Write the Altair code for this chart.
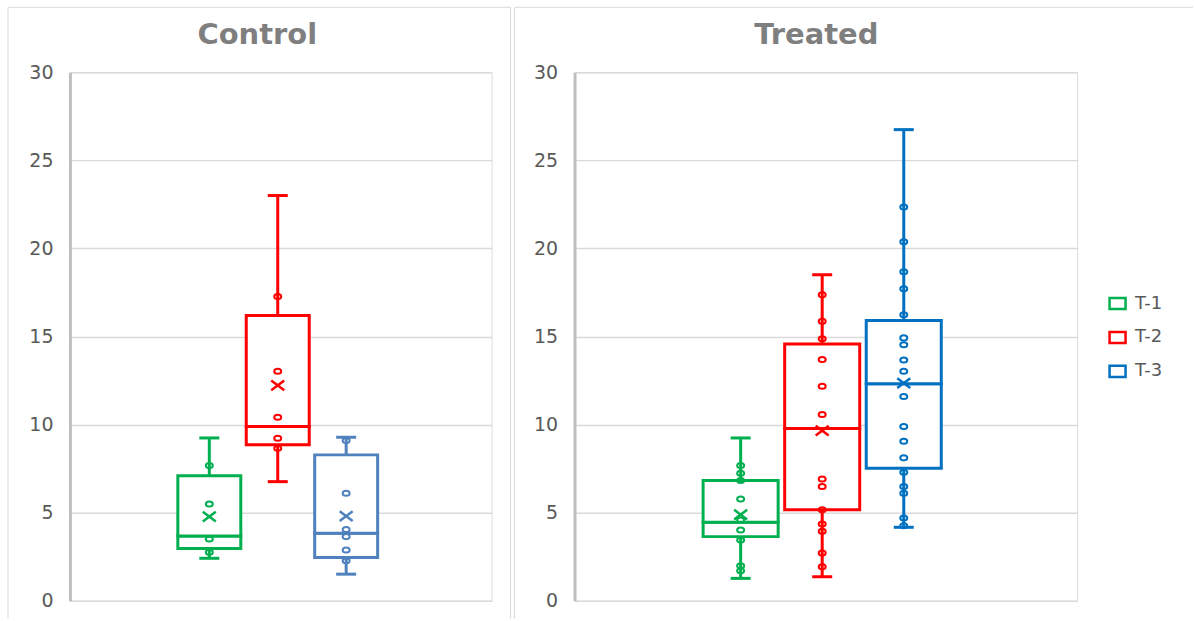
import altair as alt
import pandas as pd

series = ["T-1", "T-2", "T-3"]
control_colors = ["#00b050", "#ff0000", "#4f81bd"]
treated_colors = ["#00b050", "#ff0000", "#0070c0"]

# box summaries
control_min = [2.41, 6.76, 1.51]
control_q1 = [2.97, 8.86, 2.46]
control_median = [3.67, 9.89, 3.83]
control_q3 = [7.10, 16.19, 8.28]
control_max = [9.24, 23.0, 9.28]
control_mean = [4.77, 12.22, 4.81]

treated_min = [1.27, 1.36, 4.17]
treated_q1 = [3.64, 5.17, 7.52]
treated_median = [4.45, 9.77, 12.31]
treated_q3 = [6.82, 14.58, 15.91]
treated_max = [9.24, 18.5, 26.74]
treated_mean = [4.89, 9.66, 12.35]

# individual points
control_t1 = [7.67, 5.49, 3.50, 2.75]
control_t2 = [17.27, 13.03, 10.42, 9.22, 8.66]
control_t3 = [9.09, 6.10, 4.05, 3.64, 2.88, 2.27]

treated_t1 = [7.67, 7.23, 6.82, 5.78, 4.58, 4.02, 3.45, 1.99, 1.70]
treated_t2 = [17.37, 15.87, 14.87, 13.69, 12.18, 10.57, 6.91, 6.48, 5.17,
              4.36, 3.94, 2.71, 1.93]
treated_t3 = [22.35, 20.38, 18.67, 17.71, 16.23, 14.92, 14.53, 13.67, 13.03,
              11.59, 9.89, 9.05, 8.11, 7.29, 6.48, 6.10, 4.70, 4.26]

y_ticks = [0, 5, 10, 15, 20, 25, 30]

FONT = "DejaVu Sans"
GRID = "#d9d9d9"


def box_frame(mins, q1s, meds, q3s, maxs, means, colors):
    return pd.DataFrame({
        "grp": "all", "series": series, "color": colors,
        "min": mins, "q1": q1s, "median": meds, "q3": q3s,
        "max": maxs, "mean": means,
    })


def point_frame(lists, colors):
    rows = []
    for s, c, vals in zip(series, colors, lists):
        for v in vals:
            rows.append({"grp": "all", "series": s, "color": c, "value": v})
    return pd.DataFrame(rows)


Y_AXIS = alt.Axis(values=y_ticks, title=None, grid=True, gridColor=GRID,
                  gridWidth=1.5, domainColor="#bfbfbf", domainWidth=3,
                  ticks=False, labelPadding=17, labelFontSize=19,
                  labelColor="#595959", labelFont=FONT)
Y_SCALE = alt.Scale(domain=[0, 30], nice=False)
X_ENC = alt.X("grp:N", scale=alt.Scale(paddingInner=0, paddingOuter=0.527,
                                      align=0.486), axis=None)
XO_ENC = alt.XOffset("series:N", scale=alt.Scale(domain=series,
                                                 paddingInner=0.08,
                                                 paddingOuter=0.04))

ELLIPSE = "M-1,0A1,0.72 0 1,0 1,0A1,0.72 0 1,0 -1,0Z"
XSHAPE = "M-1,-0.75L1,0.75M1,-0.75L-1,0.75"


def panel(title, dx, box, pts, width, height, left_ext, right_ext, stroke_enc):
    one = alt.Data(values=[{"d": 0}])
    col = alt.Color("color:N", scale=None)
    bottom = 547
    borders = [
        alt.Chart(one).mark_rule(color=GRID, strokeWidth=1).encode(
            x=alt.value(-left_ext), y=alt.value(-65), y2=alt.value(bottom)),
        alt.Chart(one).mark_rule(color=GRID, strokeWidth=1).encode(
            x=alt.value(-left_ext), x2=alt.value(right_ext), y=alt.value(-65)),
    ]
    if right_ext < 600:
        borders.append(alt.Chart(one).mark_rule(color=GRID, strokeWidth=1).encode(
            x=alt.value(right_ext), y=alt.value(-65), y2=alt.value(bottom)))

    base = alt.Chart(box).encode(x=X_ENC, xOffset=XO_ENC)
    whisk = base.mark_rule(strokeWidth=3, opacity=1).encode(
        y=alt.Y("min:Q", scale=Y_SCALE, axis=Y_AXIS), y2="max:Q", color=col)
    cap_lo = base.mark_tick(orient="horizontal", size=20, thickness=3,
                            opacity=1).encode(
        y=alt.Y("min:Q", scale=Y_SCALE, axis=Y_AXIS), color=col)
    cap_hi = base.mark_tick(orient="horizontal", size=20, thickness=3,
                            opacity=1).encode(
        y=alt.Y("max:Q", scale=Y_SCALE, axis=Y_AXIS), color=col)
    lower = base.mark_bar(fill="white", strokeWidth=3, opacity=1).encode(
        y=alt.Y("q1:Q", scale=Y_SCALE, axis=Y_AXIS), y2="median:Q",
        stroke=stroke_enc)
    upper = base.mark_bar(fill="white", strokeWidth=3, opacity=1).encode(
        y=alt.Y("median:Q", scale=Y_SCALE, axis=Y_AXIS), y2="q3:Q",
        stroke=stroke_enc)
    dots = alt.Chart(pts).mark_point(shape=ELLIPSE, filled=False, size=49,
                                     strokeWidth=2, opacity=1).encode(
        x=X_ENC, xOffset=XO_ENC,
        y=alt.Y("value:Q", scale=Y_SCALE, axis=Y_AXIS), color=col)
    means = base.mark_point(shape=XSHAPE, filled=False, size=169,
                            strokeWidth=2.5, opacity=1).encode(
        y=alt.Y("mean:Q", scale=Y_SCALE, axis=Y_AXIS), color=col)

    return alt.layer(*borders, whisk, cap_lo, cap_hi, lower, upper, dots,
                     means).properties(
        width=width, height=height,
        title=alt.TitleParams(text=title, anchor="middle", frame="group",
                              orient="top", offset=0, dx=dx, dy=66.5,
                              baseline="alphabetic", fontSize=29,
                              fontWeight="bold", color="#7f7f7f", font=FONT))


control_box = box_frame(control_min, control_q1, control_median, control_q3,
                        control_max, control_mean, control_colors)
treated_box = box_frame(treated_min, treated_q1, treated_median, treated_q3,
                        treated_max, treated_mean, treated_colors)
control_pts = point_frame([control_t1, control_t2, control_t3], control_colors)
treated_pts = point_frame([treated_t1, treated_t2, treated_t3], treated_colors)

legend = alt.Legend(title=None, orient="none", legendX=1039, legendY=222,
                    symbolType="M-1,-0.7H1V0.7H-1Z", symbolSize=256,
                    symbolStrokeWidth=2.5, symbolFillColor="white",
                    labelFontSize=18, labelColor="#595959", labelFont=FONT,
                    rowPadding=11, labelOffset=8, padding=0)

left = panel("Control", -23.5, control_box, control_pts, 422, 529, 62, 441,
             alt.Stroke("color:N", scale=None))
right = panel("Treated", -9.5, treated_box, treated_pts, 503, 529, 60, 619,
              alt.Stroke("series:N", scale=alt.Scale(domain=series,
                                                     range=treated_colors),
                         legend=legend))

chart = alt.hconcat(left, right, spacing=2).resolve_scale(
    x="independent", xOffset="independent", y="independent"
).properties(
    padding={"left": 7, "top": 6, "right": 0, "bottom": 0}
).configure_view(strokeWidth=0).configure(font=FONT)

chart.save("out.html", embed_options={"renderer": "svg", "actions": False})
